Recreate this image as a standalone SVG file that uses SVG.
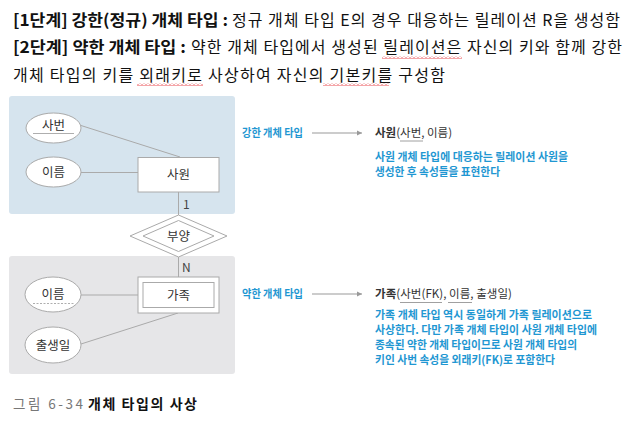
<svg xmlns="http://www.w3.org/2000/svg" width="643" height="428" viewBox="0 0 643 428">
<style>
  .t { font-family: "Noto Sans CJK KR", "Noto Sans", sans-serif; }
  .hdr { font-size: 16px; fill: #111; }
  .b { font-weight: bold; }
  .node { fill: #ffffff; stroke: #aaaaaa; stroke-width: 1; }
  .lbl { font-size: 12.5px; fill: #333; text-anchor: middle; }
  .card { font-size: 12px; fill: #444; }
  .conn { stroke: #aaaaaa; stroke-width: 1; fill: none; }
  .hand { font-size: 11px; fill: #1f97d2; font-weight: bold; }
  .rel { font-size: 11.5px; fill: #333; }
  .arrow { stroke: #999999; stroke-width: 1; fill: none; }
  .ul { stroke: #888; stroke-width: 0.8; }
</style>
<defs>
  <marker id="ah" markerWidth="6" markerHeight="6" refX="5" refY="3" orient="auto" markerUnits="userSpaceOnUse">
    <path d="M0,0.5 L5,3 L0,5.5 z" fill="#999"/>
  </marker>
  <pattern id="wavy" width="4" height="3" patternUnits="userSpaceOnUse">
    <polyline points="0,2.5 2,0.5 4,2.5" fill="none" stroke="#e8383d" stroke-width="0.9"/>
  </pattern>
</defs>
<rect width="643" height="428" fill="#ffffff"/>

<!-- header text -->
<g id="header">
  <text class="t hdr b" x="13" y="26" textLength="215" lengthAdjust="spacingAndGlyphs">[1단계] 강한(정규) 개체 타입 :</text>
  <text class="t hdr" x="232" y="26" textLength="388" lengthAdjust="spacing">정규 개체 타입 E의 경우 대응하는 릴레이션 R을 생성함</text>
  <text class="t hdr b" x="13" y="53" textLength="173" lengthAdjust="spacingAndGlyphs">[2단계] 약한 개체 타입 :</text>
  <text class="t hdr" x="191" y="53" textLength="431" lengthAdjust="spacing">약한 개체 타입에서 생성된 릴레이션은 자신의 키와 함께 강한</text>
  <text class="t hdr" x="13" y="81" textLength="432" lengthAdjust="spacing">개체 타입의 키를 외래키로 사상하여 자신의 기본키를 구성함</text>
  <rect x="382" y="56" width="80" height="3" fill="url(#wavy)"/>
  <rect x="137" y="83" width="66" height="3" fill="url(#wavy)"/>
  <rect x="323" y="83" width="66" height="3" fill="url(#wavy)"/>
</g>

<!-- panels -->
<rect x="9" y="96" width="226" height="118" rx="3" fill="#d6e4ee"/>
<rect x="9" y="256" width="226" height="118" rx="3" fill="#e6e6e8"/>

<!-- connectors -->
<g id="connectors">
  <line class="conn" x1="81" y1="125.5" x2="180" y2="157"/>
  <line class="conn" x1="81" y1="172.5" x2="138" y2="172.5"/>
  <line class="conn" x1="178.5" y1="192" x2="178.5" y2="215"/>
  <line class="conn" x1="178.5" y1="257" x2="178.5" y2="277"/>
  <line class="conn" x1="81" y1="295" x2="138" y2="295"/>
  <line class="conn" x1="81" y1="344" x2="178" y2="313"/>
  <text class="t card" x="183" y="209">1</text>
  <text class="t card" x="182" y="272">N</text>
  <line class="arrow" x1="312" y1="133" x2="362" y2="133" marker-end="url(#ah)"/>
  <line class="arrow" x1="312" y1="294" x2="362" y2="294" marker-end="url(#ah)"/>
</g>

<!-- nodes -->
<g id="attr-sabeon">
  <ellipse class="node" cx="53.5" cy="128" rx="27.5" ry="15"/>
  <text class="t lbl" x="53.5" y="130">사번</text>
  <line x1="33" y1="133.5" x2="74" y2="133.5" stroke="#999" stroke-width="0.8"/>
</g>
<g id="attr-ireum1">
  <ellipse class="node" cx="53.5" cy="172" rx="27.5" ry="15"/>
  <text class="t lbl" x="53.5" y="176.5">이름</text>
</g>
<g id="entity-sawon">
  <rect class="node" x="138" y="157.5" width="81" height="34.5"/>
  <text class="t lbl" x="178.5" y="179">사원</text>
</g>
<g id="rel-buyang">
  <polygon class="node" points="178.5,215 227,236 178.5,257 130,236"/>
  <polygon class="node" points="178.5,220.5 214,236 178.5,251.5 143,236"/>
  <text class="t lbl" x="178.5" y="240.5">부양</text>
</g>
<g id="entity-gajok">
  <rect class="node" x="138" y="277" width="81" height="36"/>
  <rect class="node" x="143" y="282.5" width="71" height="25"/>
  <text class="t lbl" x="178.5" y="299.5">가족</text>
</g>
<g id="attr-ireum2">
  <ellipse class="node" cx="53" cy="294.5" rx="28" ry="17.5"/>
  <text class="t lbl" x="53" y="299">이름</text>
  <line x1="33" y1="303.5" x2="74" y2="303.5" stroke="#999" stroke-width="0.8" stroke-dasharray="2,1.5"/>
</g>
<g id="attr-chulsaeng">
  <ellipse class="node" cx="53" cy="345" rx="28" ry="18"/>
  <text class="t lbl" x="53" y="349.5">출생일</text>
</g>

<!-- right side annotations -->
<g id="strong-mapping">
  <text class="t hand" x="242" y="137" textLength="61" lengthAdjust="spacingAndGlyphs">강한 개체 타입</text>
  <text class="t rel" x="375" y="137"><tspan font-weight="bold">사원</tspan>(사번, 이름)</text>
  <line class="ul" x1="400" y1="141" x2="423" y2="141"/>
  <text class="t hand" x="375" y="160.5" textLength="193" lengthAdjust="spacingAndGlyphs">사원 개체 타입에 대응하는 릴레이션 사원을</text>
  <text class="t hand" x="375" y="175.5" textLength="125" lengthAdjust="spacingAndGlyphs">생성한 후 속성들을 표현한다</text>
</g>
<g id="weak-mapping">
  <text class="t hand" x="242" y="298" textLength="61" lengthAdjust="spacingAndGlyphs">약한 개체 타입</text>
  <text class="t rel" x="375" y="298" textLength="137" lengthAdjust="spacing"><tspan font-weight="bold">가족</tspan>(사번(FK), 이름, 출생일)</text>
  <line class="ul" x1="400" y1="302.5" x2="442" y2="302.5"/>
  <line class="ul" x1="448" y1="302.5" x2="472" y2="302.5"/>
  <text class="t hand" x="375" y="319" textLength="217" lengthAdjust="spacingAndGlyphs">가족 개체 타입 역시 동일하게 가족 릴레이션으로</text>
  <text class="t hand" x="375" y="334" textLength="222" lengthAdjust="spacingAndGlyphs">사상한다. 다만 가족 개체 타입이 사원 개체 타입에</text>
  <text class="t hand" x="375" y="349" textLength="202" lengthAdjust="spacingAndGlyphs">종속된 약한 개체 타입이므로 사원 개체 타입의</text>
  <text class="t hand" x="375" y="364" textLength="180" lengthAdjust="spacingAndGlyphs">키인 사번 속성을 외래키(FK)로 포함한다</text>
</g>

<!-- caption -->
<g id="caption">
  <text class="t" x="13" y="409" font-size="13.5" fill="#777" textLength="70" lengthAdjust="spacing">그림 6-34</text>
  <text class="t b" x="88" y="409" font-size="14" fill="#111" textLength="109" lengthAdjust="spacing">개체 타입의 사상</text>
</g>
</svg>
